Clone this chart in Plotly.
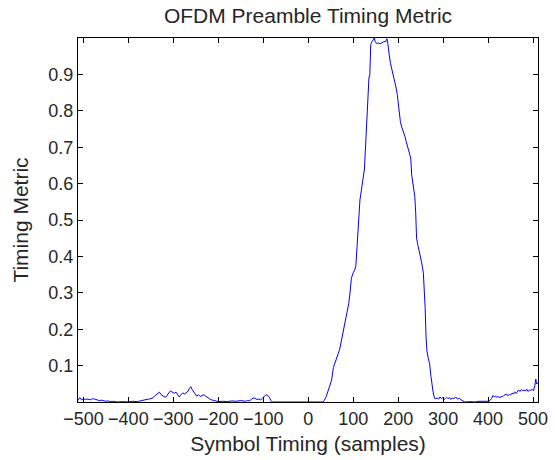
import plotly.graph_objects as go

# Symbol timing offsets (samples) and timing metric values
timing = [-512, -508, -504, -500, -495, -490, -485, -480, -475, -470, -465, -460, -455, -450,
          -445, -440, -435, -430, -425, -410, -400, -390, -380, -370, -365, -360, -355, -350,
          -345, -340, -335, -331, -327, -322, -318, -314, -310, -306, -302, -298, -294, -290,
          -287, -283, -279, -275, -271, -267, -264, -261, -258, -255, -252, -248, -244, -240,
          -236, -232, -228, -224, -220, -216, -212, -208, -204, -200, -190, -180, -170, -160,
          -150, -140, -135, -130, -126, -122, -118, -114, -110, -106, -102, -98, -94, -90,
          -86, -83, -80, -60, -40, -20, 0, 20, 33,
          36, 40, 44, 48, 52, 56, 60, 65, 70, 74, 78, 82, 86, 90, 93, 96, 100, 104, 106, 108,
          110, 112, 115, 118, 122, 125, 127, 129, 131, 133, 135, 137, 138, 139, 142, 145, 147,
          149, 152, 156, 160, 164, 168, 172, 175, 177, 178, 180, 183, 186, 188, 191, 193, 196,
          198, 200, 202, 205, 208, 211, 215, 218, 221, 224, 228, 230, 233, 237, 239, 241, 244,
          248, 252, 256, 258, 260, 262, 264, 267, 270, 273, 276, 278, 281, 284, 287, 290, 293,
          296, 299, 302, 305, 308, 311, 314, 317, 320, 324, 328, 332, 336, 340, 344, 348, 360,
          370, 380, 390, 400, 404, 408, 411, 414, 417, 420, 423, 426, 429, 432, 435, 438, 441,
          444, 447, 450, 453, 456, 459, 462, 465, 468, 471, 474, 477, 480, 483, 486, 489, 492,
          495, 498, 501, 504, 506, 508, 511]

metric = [0.004, 0.012, 0.006, 0.009, 0.007, 0.008, 0.006, 0.009, 0.008, 0.006, 0.004, 0.005,
          0.003, 0.002, 0.003, 0.001, 0.002, 0.001, 0.0, 0.001, 0.0, 0.002, 0.001, 0.004, 0.006,
          0.007, 0.008, 0.009, 0.012, 0.018, 0.022, 0.027, 0.020, 0.015, 0.013, 0.017, 0.026,
          0.030, 0.027, 0.024, 0.027, 0.018, 0.014, 0.020, 0.025, 0.022, 0.026, 0.030, 0.038,
          0.042, 0.034, 0.028, 0.022, 0.016, 0.020, 0.015, 0.018, 0.020, 0.016, 0.012, 0.010,
          0.006, 0.005, 0.003, 0.002, 0.001, 0.002, 0.001, 0.003, 0.002, 0.004, 0.002, 0.004,
          0.003, 0.008, 0.011, 0.010, 0.007, 0.008, 0.006, 0.010, 0.015, 0.020, 0.018, 0.012,
          0.004, 0.0, 0.0, 0.0, 0.0, 0.0, 0.0, 0.0,
          0.005, 0.015, 0.030, 0.043, 0.060, 0.095, 0.110, 0.130, 0.145, 0.170, 0.200, 0.220,
          0.245, 0.270, 0.300, 0.340, 0.355, 0.365, 0.375, 0.420, 0.460, 0.500, 0.555, 0.580,
          0.610, 0.640, 0.690, 0.750, 0.820, 0.880, 0.890, 0.900, 0.950, 0.982, 0.990, 0.995,
          1.000, 0.990, 0.985, 0.986, 0.984, 0.987, 0.990, 0.990, 0.998, 0.985, 0.970, 0.955,
          0.930, 0.915, 0.900, 0.885, 0.880, 0.860, 0.845, 0.820, 0.795, 0.770, 0.755, 0.745,
          0.730, 0.715, 0.700, 0.685, 0.670, 0.625, 0.600, 0.565, 0.520, 0.450, 0.430, 0.410,
          0.385, 0.355, 0.310, 0.260, 0.180, 0.140, 0.120, 0.105, 0.070, 0.040, 0.025, 0.010,
          0.009, 0.011, 0.008, 0.014, 0.010, 0.012, 0.006, 0.010, 0.013, 0.009, 0.012, 0.007,
          0.011, 0.009, 0.014, 0.008, 0.010, 0.006, 0.002, 0.0, 0.001, 0.0, 0.002, 0.001, 0.002,
          0.004, 0.010, 0.018, 0.014, 0.016, 0.013, 0.015, 0.011, 0.016, 0.014, 0.018, 0.020,
          0.022, 0.017, 0.021, 0.019, 0.024, 0.022, 0.028, 0.023, 0.030, 0.033, 0.029, 0.034,
          0.031, 0.033, 0.030, 0.035, 0.029, 0.033, 0.032, 0.035, 0.031, 0.045, 0.063, 0.050,
          0.052]

x_ticks = [-500, -400, -300, -200, -100, 0, 100, 200, 300, 400, 500]
y_ticks = [0.1, 0.2, 0.3, 0.4, 0.5, 0.6, 0.7, 0.8, 0.9]

FONT = "Liberation Sans, Arial, Helvetica, sans-serif"
TXT = "#262626"

fig = go.Figure()
fig.add_trace(go.Scatter(x=timing, y=metric, mode="lines",
                         line=dict(color="#0000ff", width=1), showlegend=False))

axis_common = dict(showline=True, linecolor="black", linewidth=1, mirror="ticks",
                   ticks="inside", ticklen=5, tickcolor="black", tickwidth=1,
                   showgrid=False, zeroline=False, automargin=False,
                   tickfont=dict(family=FONT, size=18, color=TXT))

fig.update_xaxes(range=[-512, 511], tickvals=x_ticks,
                 title=dict(text="Symbol Timing (samples)", font=dict(family=FONT, size=21, color=TXT),
                            standoff=8),
                 **axis_common)
fig.update_yaxes(range=[0, 1], tickvals=y_ticks, tickformat=".1f",
                 title=dict(text="Timing Metric", font=dict(family=FONT, size=21, color=TXT),
                            standoff=14),
                 **axis_common)

fig.update_layout(
    width=555, height=460,
    margin=dict(l=78, r=17, t=38, b=58),
    paper_bgcolor="white", plot_bgcolor="white",
    title=dict(text="OFDM Preamble Timing Metric", x=0.555, xanchor="center",
               y=0.966, yanchor="middle",
               font=dict(family=FONT, size=21, color=TXT)),
)

fig.write_html("out.html")
